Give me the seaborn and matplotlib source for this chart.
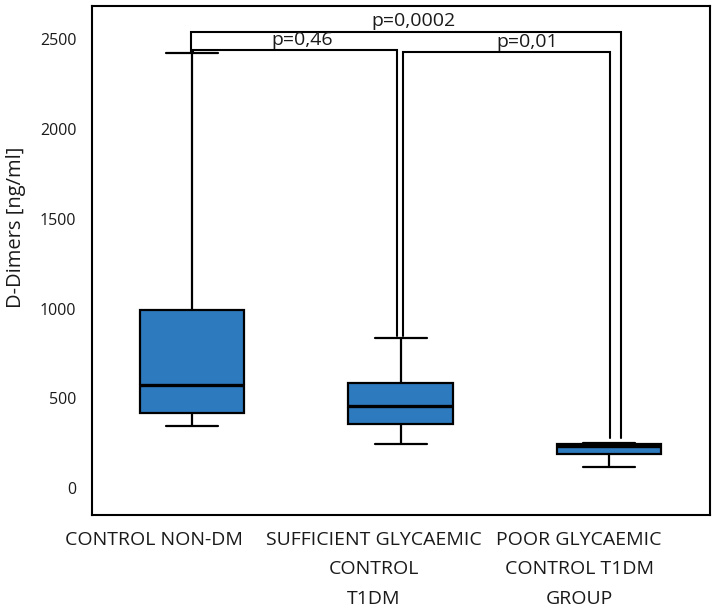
import numpy as np
import pandas as pd
import matplotlib
matplotlib.use("Agg")
import matplotlib.pyplot as plt
import seaborn as sns
from matplotlib.transforms import ScaledTranslation

# ---- data (five-number summaries) ----
groups = ["CONTROL NON-DM",
          "SUFFICIENT GLYCAEMIC\nCONTROL\nT1DM",
          "POOR GLYCAEMIC\nCONTROL T1DM\nGROUP"]
control_non_dm = [349, 421, 575, 993, 2425]
sufficient_t1dm = [245, 358, 460, 585, 839]
poor_t1dm = [120, 191, 236, 246, 254]
y_ticks = [0, 500, 1000, 1500, 2000, 2500]

comparisons = [(0, 2), (0, 1), (1, 2)]
p_labels = ["p=0,0002", "p=0,46", "p=0,01"]
bracket_levels = [2543, 2440, 2428]

# ---- styling ----
sns.set_style("white")
plt.rcParams["font.family"] = ["Open Sans", "DejaVu Sans"]
box_color = "#2E7ABE"
text_color = "#1a1a1a"

df = pd.DataFrame({
    "group": np.repeat(groups, 5),
    "value": control_non_dm + sufficient_t1dm + poor_t1dm,
})

fig = plt.figure(figsize=(7.16, 6.10), dpi=100)
ax = fig.add_axes([92 / 716, 1 - 514.5 / 610, (710 - 92) / 716, (514.5 - 6) / 610])

sns.boxplot(data=df, x="group", y="value", order=groups, whis=np.inf,
            width=0.5, color=box_color, saturation=1, linecolor="black",
            linewidth=1.6, capwidths=0.25,
            medianprops={"linewidth": 2.4, "color": "black"}, ax=ax)

ax.set_xlim(-0.48, 2.484)
ax.set_ylim(-146, 2685)
ax.set_yticks(y_ticks)
ax.set_xlabel("")
ax.set_ylabel("D-Dimers [ng/ml]", fontsize=14.5, color=text_color)
ax.yaxis.set_label_coords(-0.107, 0.564)

for sp in ax.spines.values():
    sp.set_visible(True)
    sp.set_linewidth(1.5)
    sp.set_color("black")

ax.tick_params(axis="both", direction="inout", length=9.5, width=1.3,
               color="black", labelcolor=text_color)
ax.tick_params(axis="y", labelsize=11.5, pad=6.5)
ax.tick_params(axis="x", labelsize=14, pad=7)

# x tick labels: multi-line, shifted slightly to the left as in the source
shifts_px = [-38, -27, -30]
for lab, dx in zip(ax.get_xticklabels(), shifts_px):
    lab.set_linespacing(1.82)
    lab.set_transform(lab.get_transform() +
                      ScaledTranslation(dx / 100, 0, fig.dpi_scale_trans))

# ---- significance brackets ----
group_max = [max(control_non_dm), max(sufficient_t1dm), max(poor_t1dm)]
leg_gap = [0, 10, 25]
leg_offsets = [(-0.006, 0.056), (0.005, -0.015), (0.01, 0.005)]
text_shift = [0.035, 0.035, 0.1]
for (i, j), lab, lvl, (oi, oj), ts in zip(comparisons, p_labels,
                                          bracket_levels, leg_offsets,
                                          text_shift):
    xi, xj = i + oi, j + oj
    yi = group_max[i] + leg_gap[i]
    yj = group_max[j] + leg_gap[j]
    ax.plot([xi, xi, xj, xj], [yi, lvl, lvl, yj], color="black", lw=1.5,
            solid_joinstyle="miter", zorder=5)
    ax.text((xi + xj) / 2 + ts, lvl + 8, lab, ha="center", va="bottom",
            fontsize=14, color=text_color, zorder=6)

fig.savefig("out.png", dpi=100)
